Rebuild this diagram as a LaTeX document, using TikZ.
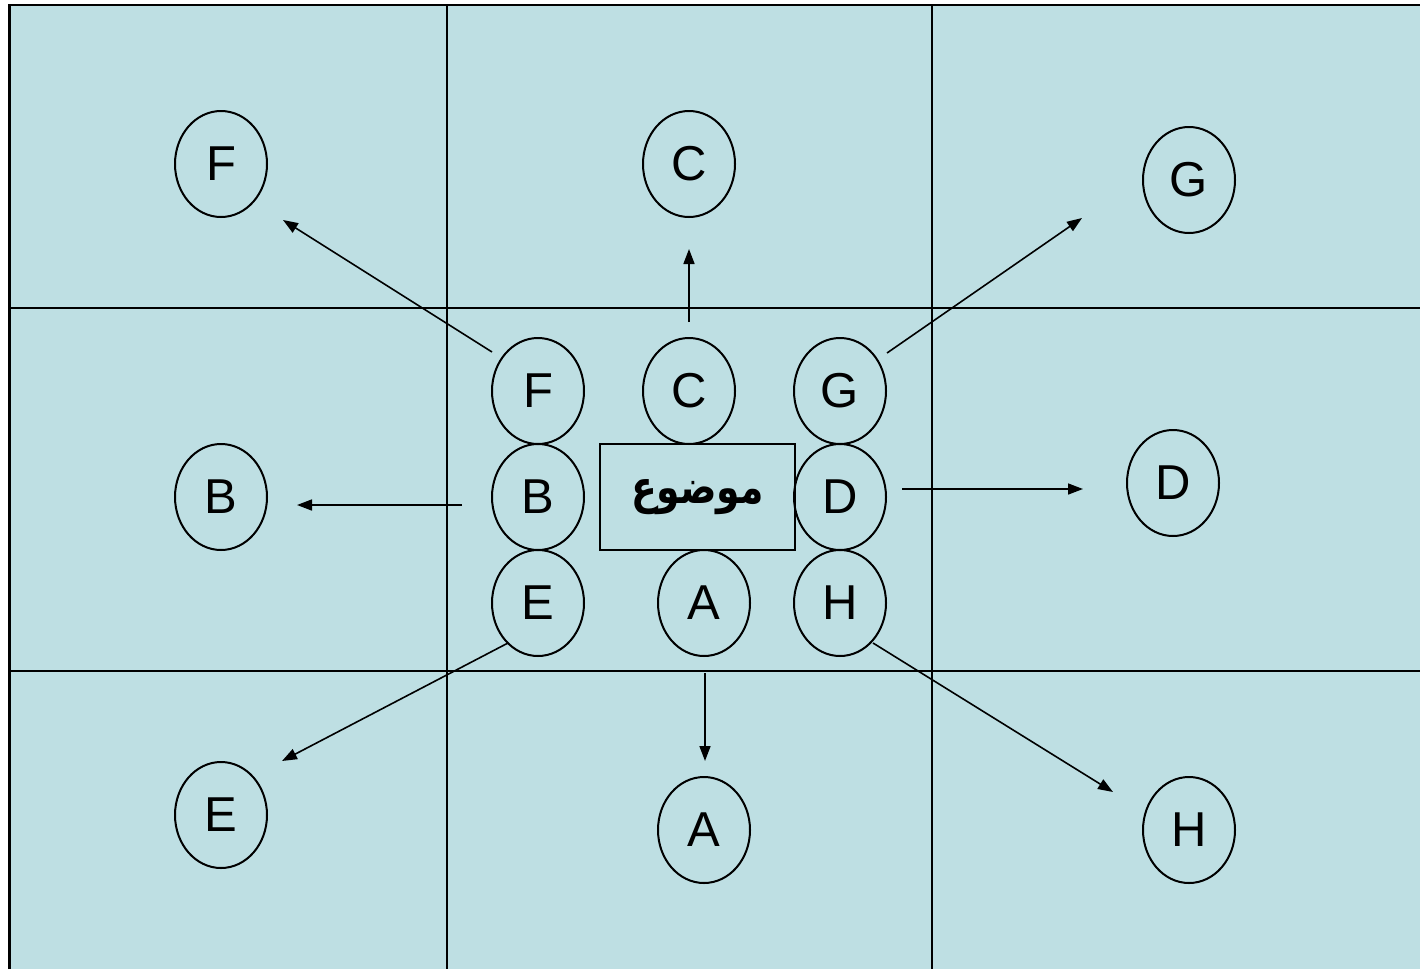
\documentclass[tikz,border=0pt]{standalone}
\usepackage{graphicx}
\usepackage{fontspec}
\setmainfont{Liberation Sans}
\newfontfamily\arabicfont[Script=Arabic]{DejaVu Sans}
\TeXXeTstate=1
\usetikzlibrary{shapes.geometric,arrows.meta}
\definecolor{panel}{HTML}{BEDFE3}
\tikzset{
  oval/.style={draw, ellipse, line width=2pt, inner sep=0pt,
    minimum width=92pt, minimum height=106pt, font=\fontsize{49}{50}\selectfont},
  gridline/.style={line width=2.2pt},
  arr/.style={line width=1.6pt, -{Triangle[length=15pt,width=11pt]}},
}
\begin{document}
\begin{tikzpicture}[x=1pt,y=-1pt]
\useasboundingbox (0,0) rectangle (1420,969);
\fill[panel] (9,5) rectangle (1420,969);
% grid
\draw[gridline] (9.5,969) -- (9.5,5) -- (1420,5);
\draw[gridline] (447,5) -- (447,969);
\draw[gridline] (932,5) -- (932,969);
\draw[gridline] (9.5,308) -- (1420,308);
\draw[gridline] (9.5,671) -- (1420,671);
% inner ring
\node[oval] (iF) at (538,391) {F};
\node[oval] (iC) at (689,391) {C};
\node[oval] (iG) at (840,391) {G};
\node[oval] (iB) at (538,497) {B};
\node[oval] (iD) at (840,497) {D};
\node[oval] (iE) at (538,603) {E};
\node[oval] (iA) at (704,603) {A};
\node[oval] (iH) at (840,603) {H};
\node[draw, line width=2pt, minimum width=195pt, minimum height=106pt, inner sep=0pt]
  (topic) at (697.5,497)
  {\scalebox{0.82}[1]{\arabicfont\bfseries\fontsize{46}{50}\selectfont\beginR موضوع\endR}};
% outer ring
\node[oval] (oF) at (221,164) {F};
\node[oval] (oC) at (689,164) {C};
\node[oval] (oG) at (1189,180) {G};
\node[oval] (oB) at (221,497) {B};
\node[oval] (oD) at (1173,483) {D};
\node[oval] (oE) at (221,815) {E};
\node[oval] (oA) at (704,830) {A};
\node[oval] (oH) at (1189,830) {H};
% arrow ends
\coordinate (sF) at (492,352); \coordinate (tF) at (283,220);
\coordinate (sC) at (689,322); \coordinate (tC) at (689,249);
\coordinate (sG) at (887,353); \coordinate (tG) at (1082,218);
\coordinate (sB) at (462,505); \coordinate (tB) at (297,505);
\coordinate (sD) at (902,489); \coordinate (tD) at (1083,489);
\coordinate (sE) at (508,643); \coordinate (tE) at (282,761);
\coordinate (sA) at (705,673); \coordinate (tA) at (705,761);
\coordinate (sH) at (873,643); \coordinate (tH) at (1113,792);
\foreach \k in {F,C,G,B,D,E,A,H} \draw[arr] (s\k) -- (t\k);
\end{tikzpicture}
\end{document}
